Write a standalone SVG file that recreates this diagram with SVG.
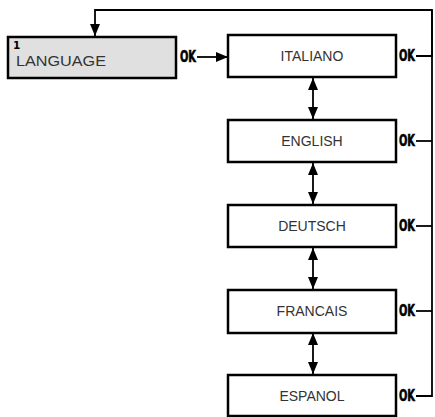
<svg xmlns="http://www.w3.org/2000/svg" width="435" height="417" viewBox="0 0 435 417">
<style>
.box{fill:#fff;stroke:#000;stroke-width:2.5}
.lbl{font-family:"Liberation Sans",Arial,sans-serif;font-size:14px;fill:#333;text-anchor:middle}
.ok{font-family:"DejaVu Sans",sans-serif;font-weight:bold;font-size:15px;fill:#000;stroke:#000;stroke-width:0.6}
.ln{fill:none;stroke:#000;stroke-width:1.8}
</style>
<defs>
<marker id="ah2" viewBox="0 0 12 10" refX="12" refY="5" markerWidth="12" markerHeight="10" markerUnits="userSpaceOnUse" orient="auto-start-reverse">
<path d="M0,0 L12,5 L0,10 z" fill="#000"/>
</marker>
</defs>
<g id="connectors">
<path class="ln" d="M416,56 H432 V10 H95 V36" marker-end="url(#ah2)"/>
<path class="ln" d="M416,141 H432"/>
<path class="ln" d="M416,226 H432"/>
<path class="ln" d="M416,311 H432"/>
<path class="ln" d="M416,396 H432 V10"/>
<path class="ln" d="M197,57 H228" marker-end="url(#ah2)"/>
<path class="ln" d="M313,78 V119" stroke-width="2.2" marker-start="url(#ah2)" marker-end="url(#ah2)"/>
<path class="ln" d="M313,163 V204" stroke-width="2.2" marker-start="url(#ah2)" marker-end="url(#ah2)"/>
<path class="ln" d="M313,248 V289" stroke-width="2.2" marker-start="url(#ah2)" marker-end="url(#ah2)"/>
<path class="ln" d="M313,333 V374" stroke-width="2.2" marker-start="url(#ah2)" marker-end="url(#ah2)"/>
<text class="ok" x="180" y="62" textLength="16" lengthAdjust="spacingAndGlyphs">OK</text>
<text class="ok" x="399" y="61" textLength="16" lengthAdjust="spacingAndGlyphs">OK</text>
<text class="ok" x="399" y="146" textLength="16" lengthAdjust="spacingAndGlyphs">OK</text>
<text class="ok" x="399" y="231" textLength="16" lengthAdjust="spacingAndGlyphs">OK</text>
<text class="ok" x="399" y="316" textLength="16" lengthAdjust="spacingAndGlyphs">OK</text>
<text class="ok" x="399" y="401" textLength="16" lengthAdjust="spacingAndGlyphs">OK</text>
</g>
<g id="language">
<rect x="8" y="37" width="168" height="41" fill="#e0e0e0" stroke="#000" stroke-width="2.5"/>
<text x="13" y="49" font-family="DejaVu Sans,sans-serif" font-weight="bold" font-size="10.5">1</text>
<text x="16" y="66" font-family="Liberation Sans,Arial,sans-serif" font-size="15" fill="#333" textLength="90" lengthAdjust="spacingAndGlyphs">LANGUAGE</text>
</g>
<g id="italiano"><rect class="box" x="228" y="35" width="168" height="42"/><text class="lbl" x="312" y="61">ITALIANO</text></g>
<g id="english"><rect class="box" x="228" y="120" width="168" height="42"/><text class="lbl" x="312" y="146">ENGLISH</text></g>
<g id="deutsch"><rect class="box" x="228" y="205" width="168" height="42"/><text class="lbl" x="312" y="231">DEUTSCH</text></g>
<g id="francais"><rect class="box" x="228" y="290" width="168" height="43"/><text class="lbl" x="312" y="316">FRANCAIS</text></g>
<g id="espanol"><rect class="box" x="228" y="375" width="168" height="41"/><text class="lbl" x="312" y="401">ESPANOL</text></g>
</svg>
